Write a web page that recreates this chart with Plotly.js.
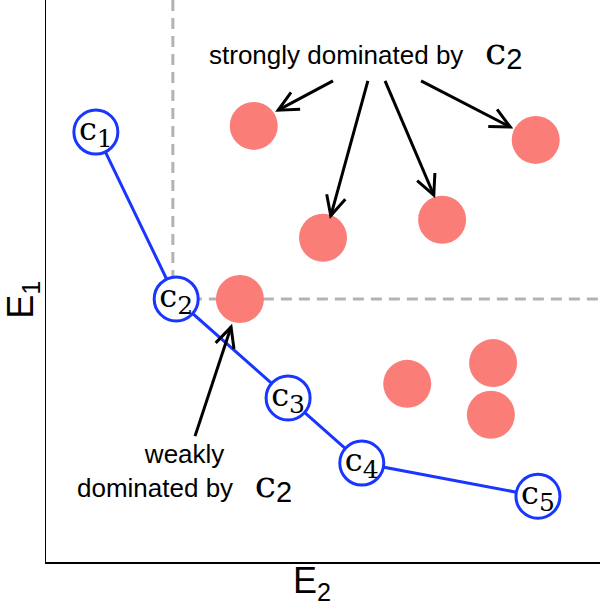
<!DOCTYPE html>
<html>
<head>
<meta charset="utf-8">
<script src="https://cdn.plot.ly/plotly-3.0.1.min.js"></script>
<style>html,body{margin:0;padding:0;background:#fff;}#chart{width:600px;height:607px;}</style>
</head>
<body>
<div id="chart"></div>
<script>
// Pareto front candidates (E2, E1)
var frontLabels = ['1', '2', '3', '4', '5'];
var frontE2 = [0.90, 2.35, 4.37, 5.70, 8.88];
var frontE1 = [7.65, 4.68, 2.92, 1.76, 1.17];

// Dominated solutions (E2, E1)
var domE2 = [3.75, 8.84, 5.00, 7.15, 3.50, 8.07, 6.52, 8.03];
var domE1 = [7.76, 7.51, 5.77, 6.09, 4.68, 3.54, 3.17, 2.62];

// Dominance guide lines through c2
var guideE2 = 2.29;
var guideE1 = 4.68;

// Arrows: tail -> tip
var strongTailE2 = [5.18, 5.81, 6.12, 6.77];
var strongTailE1 = [8.56, 8.56, 8.56, 8.56];
var strongTipE2  = [4.19, 5.14, 7.00, 8.38];
var strongTipE1  = [8.04, 6.16, 6.53, 7.74];
var weakTailE2 = [2.69];
var weakTailE1 = [2.24];
var weakTipE2  = [3.34];
var weakTipE1  = [4.18];

var W = 600, H = 607, ML = 46, MR = 0, MT = 0, MB = 45;
var XR = [0, 10], YR = [0, 10];
var pxX = (W - ML - MR) / (XR[1] - XR[0]);
var pxY = (H - MT - MB) / (YR[1] - YR[0]);

var blue = '#1836ff';
var red = '#fb7d78';
var gray = '#b3b3b3';
var sans = 'Liberation Sans, Arial, sans-serif';
var serif = 'DejaVu Serif, serif';

var traces = [];
traces.push({x: [guideE2, guideE2], y: [guideE1, YR[1]], mode: 'lines', line: {color: gray, width: 3, dash: '11px,7px'}, hoverinfo: 'skip'});
traces.push({x: [guideE2, XR[1]], y: [guideE1, guideE1], mode: 'lines', line: {color: gray, width: 3, dash: '11px,7px'}, hoverinfo: 'skip'});
traces.push({x: domE2, y: domE1, mode: 'markers', marker: {size: 48, color: red, line: {width: 0}}, hoverinfo: 'skip'});
traces.push({x: frontE2, y: frontE1, mode: 'lines', line: {color: blue, width: 3}, hoverinfo: 'skip'});
traces.push({
  x: frontE2, y: frontE1, mode: 'markers+text',
  marker: {size: 44, color: 'white', line: {color: blue, width: 3}},
  text: frontLabels.map(function(l){ return 'c<sub><span style="font-size:25px">' + l + '</span></sub>'; }),
  textposition: 'middle center',
  textfont: {family: serif, size: 32, color: 'black'},
  hoverinfo: 'skip'
});

// Arrows drawn as shapes: shaft + open chevron head
var shapes = [];
function addArrow(tx, ty, hx, hy) {
  shapes.push({type: 'line', xref: 'x', yref: 'y', x0: tx, y0: ty, x1: hx, y1: hy,
    line: {color: 'black', width: 3}, layer: 'above'});
  var dx = (tx - hx) * pxX, dy = (ty - hy) * pxY;
  var len = Math.sqrt(dx * dx + dy * dy);
  var ux = dx / len, uy = dy / len;
  var L = 22, th = 26 * Math.PI / 180;
  var pts = [th, -th].map(function(a){
    var rx = ux * Math.cos(a) - uy * Math.sin(a);
    var ry = ux * Math.sin(a) + uy * Math.cos(a);
    return [hx + rx * L / pxX, hy + ry * L / pxY];
  });
  shapes.push({type: 'path', xref: 'x', yref: 'y',
    path: 'M' + pts[0][0] + ',' + pts[0][1] + 'L' + hx + ',' + hy + 'L' + pts[1][0] + ',' + pts[1][1],
    line: {color: 'black', width: 3}, layer: 'above'});
}
for (var i = 0; i < strongTipE2.length; i++) addArrow(strongTailE2[i], strongTailE1[i], strongTipE2[i], strongTipE1[i]);
for (var j = 0; j < weakTipE2.length; j++) addArrow(weakTailE2[j], weakTailE1[j], weakTipE2[j], weakTipE1[j]);

var cSpan = '<span style="font-family:DejaVu Serif;font-size:38px">c</span><sub><span style="font-size:29px">2</span></sub>';
var annotations = [];
annotations.push({x: 2.906, y: 9.07, xref: 'x', yref: 'y', xanchor: 'left', yanchor: 'middle', showarrow: false,
  text: 'strongly dominated by&nbsp;&nbsp;&nbsp;' + cSpan,
  font: {family: sans, size: 26, color: 'black'}});
annotations.push({x: 2.50, y: 1.58, xref: 'x', yref: 'y', xanchor: 'center', yanchor: 'middle', showarrow: false,
  text: 'weakly<br>dominated by&nbsp;&nbsp;&nbsp;' + cSpan, align: 'center',
  font: {family: sans, size: 26, color: 'black'}});

// Axis titles
annotations.push({x: 0.48, y: -0.037, xref: 'paper', yref: 'paper', xanchor: 'center', yanchor: 'middle',
  showarrow: false, text: 'E<sub>2</sub>', font: {family: sans, size: 36, color: 'black'}});
annotations.push({x: -0.042, y: 0.466, xref: 'paper', yref: 'paper', xanchor: 'center', yanchor: 'middle',
  textangle: -90, showarrow: false, text: 'E<sub>1</sub>', font: {family: sans, size: 36, color: 'black'}});

var axis = {showline: true, linecolor: 'black', linewidth: 1.5, showgrid: false,
  zeroline: false, showticklabels: false, ticks: '', fixedrange: true};
var layout = {
  width: W, height: H,
  margin: {l: ML, r: MR, t: MT, b: MB, pad: 0},
  paper_bgcolor: 'white', plot_bgcolor: 'white',
  showlegend: false,
  xaxis: Object.assign({}, axis, {range: XR}),
  yaxis: Object.assign({}, axis, {range: YR}),
  annotations: annotations,
  shapes: shapes
};
Plotly.newPlot('chart', traces, layout, {displayModeBar: false, staticPlot: true});
</script>
</body>
</html>
